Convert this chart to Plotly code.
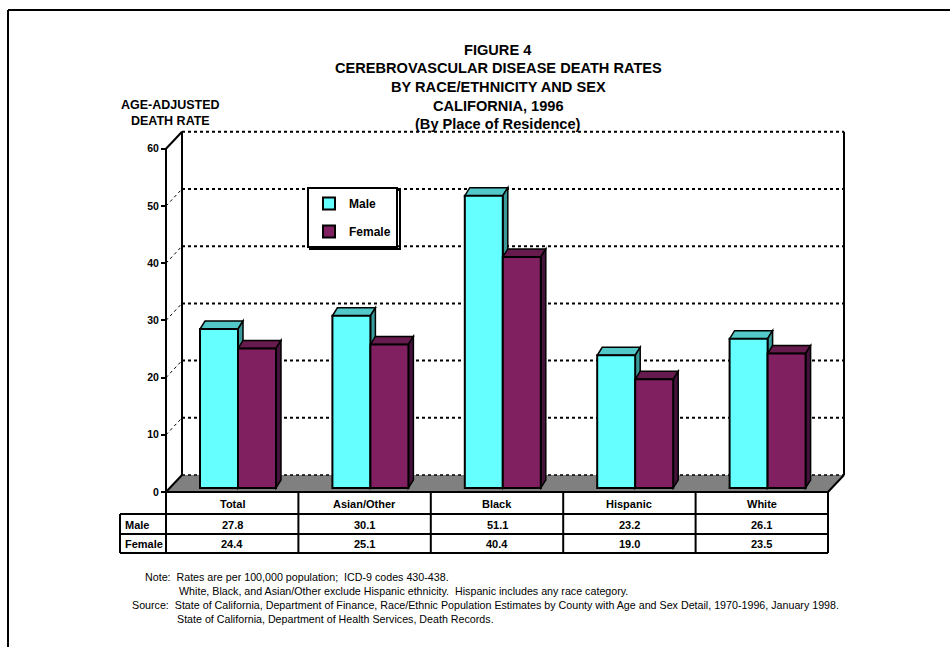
import plotly.graph_objects as go

# ---------------- data ----------------
categories = ["Total", "Asian/Other", "Black", "Hispanic", "White"]
male = [27.8, 30.1, 51.1, 23.2, 26.1]
female = [24.4, 25.1, 40.4, 19.0, 23.5]
row_labels = ["Male", "Female"]
y_ticks = [0, 10, 20, 30, 40, 50, 60]

title_lines = [
    "FIGURE 4",
    "CEREBROVASCULAR DISEASE DEATH RATES",
    "BY RACE/ETHNICITY AND SEX",
    "CALIFORNIA, 1996",
    "(By Place of Residence)",
]
ytitle_lines = ["AGE-ADJUSTED", "DEATH RATE"]
note_lines = [
    "Note:\u00a0\u00a0Rates are per 100,000 population;\u00a0\u00a0ICD-9 codes 430-438.",
    "White, Black, and Asian/Other exclude Hispanic ethnicity.\u00a0\u00a0Hispanic includes any race category.",
    "Source:\u00a0\u00a0State of California, Department of Finance, Race/Ethnic Population Estimates by County with Age and Sex Detail, 1970-1996, January 1998.",
    "State of California, Department of Health Services, Death Records.",
]

# ---------------- styling / geometry ----------------
W, H = 950, 647
FONT = "Liberation Sans, Arial, sans-serif"
MALE_C = ["#66FFFF", "#52C8C8", "#3A9A9A"]     # front, top, side
FEMALE_C = ["#802060", "#661A4D", "#44123A"]
FLOOR_C = "#808080"

COL_PX = 132.4
X_LEFT_PX = 166
Y_ZERO_PX = 492
Y_UNIT_PX = 5.72
DEPTH_X_PX, DEPTH_Y_PX = 16, 17
BAR_W_PX = 38
BAR_SHIFT_PX = 5.8
BAR_BASE_PX = 4
BAR_DX_PX, BAR_DY_PX = 5, 8


def px(x):
    return x / W


def py(y):
    return 1 - y / H


def xd(p):
    return (p - X_LEFT_PX) / COL_PX - 0.5


def yd(p):
    return (Y_ZERO_PX - p) / Y_UNIT_PX


n = len(categories)
LEFT, RIGHT = -0.5, n - 0.5
WX, WY = DEPTH_X_PX / COL_PX, DEPTH_Y_PX / Y_UNIT_PX
BW = BAR_W_PX / COL_PX
BS = BAR_SHIFT_PX / COL_PX
BB = BAR_BASE_PX / Y_UNIT_PX
BDX, BDY = BAR_DX_PX / COL_PX, BAR_DY_PX / Y_UNIT_PX
TOP = y_ticks[-1]

DOM_X = (100, 870)
DOM_Y = (120, 565)

shapes = []


def dline(x0, y0, x1, y1, width=2, dash="solid"):
    shapes.append(dict(type="line", xref="x", yref="y", x0=x0, y0=y0, x1=x1, y1=y1,
                       layer="below", line=dict(color="black", width=width, dash=dash)))


def plines(x0, y0, x1, y1, width=2):
    shapes.append(dict(type="line", xref="paper", yref="paper",
                       x0=px(x0), y0=py(y0), x1=px(x1), y1=py(y1), layer="above",
                       line=dict(color="black", width=width)))


# floor
shapes.append(dict(type="path", xref="x", yref="y", layer="below",
                   path=f"M {LEFT},0 L {RIGHT},0 L {RIGHT+WX},{WY} L {LEFT+WX},{WY} Z",
                   fillcolor=FLOOR_C, line=dict(width=0)))
dline(LEFT + WX, WY, RIGHT + WX, WY, width=1.5, dash="dot")
# back wall gridlines
for v in y_ticks[1:]:
    dline(LEFT + WX, v + WY, RIGHT + WX, v + WY, width=2, dash="dot")
# side wall dotted diagonals
for v in y_ticks[1:-1]:
    dline(LEFT, v, LEFT + WX, v + WY, width=1, dash="dot")
dline(LEFT, TOP, LEFT + WX, TOP + WY, width=2)
# back wall edges
dline(LEFT + WX, WY, LEFT + WX, TOP + WY, width=2)
dline(RIGHT + WX, WY, RIGHT + WX, TOP + WY, width=2)
# floor edges
dline(LEFT, 0, LEFT + WX, WY, width=2)
dline(RIGHT, 0, RIGHT + WX, WY, width=2)
# front value axis line
dline(LEFT, 0, LEFT, TOP, width=2)

# 3-D faces of the bars (top and side), built from the data
for vals, off, cols in [(male, BS - BW, MALE_C), (female, BS, FEMALE_C)]:
    for i, v in enumerate(vals):
        xl = i + off
        xr = xl + BW
        yb = BB
        yt = BB + v
        shapes.append(dict(type="path", xref="x", yref="y", layer="below",
                           path=f"M {xl},{yt} L {xr},{yt} L {xr+BDX},{yt+BDY} L {xl+BDX},{yt+BDY} Z",
                           fillcolor=cols[1], line=dict(color="black", width=1.5)))
        shapes.append(dict(type="path", xref="x", yref="y", layer="below",
                           path=f"M {xr},{yb} L {xr},{yt} L {xr+BDX},{yt+BDY} L {xr+BDX},{yb+BDY} Z",
                           fillcolor=cols[2], line=dict(color="black", width=1.5)))

# ---------------- data table grid ----------------
TBL_TOP, TBL_R1, TBL_R2, TBL_BOT = 492, 514, 534, 553
TBL_LEFT = 120
col_edges = [X_LEFT_PX + COL_PX * k for k in range(n + 1)]
plines(col_edges[0], TBL_TOP, col_edges[-1], TBL_TOP)
for yy in (TBL_R1, TBL_R2, TBL_BOT):
    plines(TBL_LEFT, yy, col_edges[-1], yy)
plines(TBL_LEFT, TBL_R1, TBL_LEFT, TBL_BOT)
for xx in col_edges:
    plines(xx, TBL_TOP, xx, TBL_BOT)

# outer page frame
plines(8, 10, 950, 10)
plines(8, 10, 8, 647)

# legend shadow
shapes.append(dict(type="rect", xref="paper", yref="paper", layer="below",
                   x0=px(310), y0=py(249), x1=px(400), y1=py(190),
                   line=dict(color="black", width=2), fillcolor="white"))

# ---------------- annotations ----------------
ann = []
bold = dict(family=FONT, color="black", weight="bold")
title_y = [50, 68, 87, 106, 124]
for t, yy in zip(title_lines, title_y):
    ann.append(dict(text=t, xref="paper", yref="paper", x=px(498), y=py(yy),
                    xanchor="center", yanchor="middle", showarrow=False,
                    font=dict(size=14.6, **bold)))
for t, yy in zip(ytitle_lines, [105, 121]):
    ann.append(dict(text=t, xref="paper", yref="paper", x=px(170), y=py(yy),
                    xanchor="center", yanchor="middle", showarrow=False,
                    font=dict(size=12.5, **bold)))
# table header and cells
for i, c in enumerate(categories):
    ann.append(dict(text=c, xref="x", yref="paper", x=i, y=py(504),
                    xanchor="center", yanchor="middle", showarrow=False,
                    font=dict(size=11, **bold)))
for series, yy in [(male, 525), (female, 544)]:
    for i, v in enumerate(series):
        ann.append(dict(text=f"{v:.1f}", xref="x", yref="paper", x=i, y=py(yy),
                        xanchor="center", yanchor="middle", showarrow=False,
                        font=dict(size=11, **bold)))
for lab, yy in zip(row_labels, [525, 544]):
    ann.append(dict(text=lab, xref="paper", yref="paper", x=px(123), y=py(yy),
                    xanchor="left", yanchor="middle", showarrow=False,
                    font=dict(size=11, **bold)))
# notes
for t, (xx, yy) in zip(note_lines, [(143, 577), (177, 591), (130, 605), (175, 619)]):
    ann.append(dict(text=t, xref="paper", yref="paper", x=px(xx), y=py(yy),
                    xanchor="left", yanchor="middle", showarrow=False,
                    font=dict(family=FONT, size=10.7, color="black")))

# ---------------- traces ----------------
fig = go.Figure()
fig.add_trace(go.Bar(x=list(range(n)), y=male, base=[BB] * n, width=BW, offset=BS - BW,
                     name="Male", legendgroup="m",
                     marker=dict(color=MALE_C[0], line=dict(color="black", width=2))))
fig.add_trace(go.Bar(x=list(range(n)), y=female, base=[BB] * n, width=BW, offset=BS,
                     name="Female", legendgroup="f",
                     marker=dict(color=FEMALE_C[0], line=dict(color="black", width=2))))

fig.update_layout(
    width=W, height=H,
    margin=dict(l=0, r=0, t=0, b=0),
    paper_bgcolor="white", plot_bgcolor="white",
    barmode="overlay",
    xaxis=dict(domain=[px(DOM_X[0]), px(DOM_X[1])], range=[xd(DOM_X[0]), xd(DOM_X[1])],
               visible=False, fixedrange=True),
    yaxis=dict(domain=[py(DOM_Y[1]), py(DOM_Y[0])], range=[yd(DOM_Y[1]), yd(DOM_Y[0])],
               anchor="free", position=px(X_LEFT_PX), tickvals=y_ticks,
               ticks="outside", ticklen=5, tickwidth=2, tickcolor="black",
               showgrid=False, zeroline=False, showline=False, fixedrange=True,
               tickfont=dict(family=FONT, size=10.5, color="black", weight="bold")),
    legend=dict(x=px(307), y=py(187), xanchor="left", yanchor="top",
                bgcolor="white", bordercolor="black", borderwidth=2,
                font=dict(family=FONT, size=12, color="black", weight="bold"),
                tracegroupgap=9, itemwidth=30, traceorder="grouped"),
    shapes=shapes,
    annotations=ann,
    showlegend=True,
)

fig.write_html("out.html")
